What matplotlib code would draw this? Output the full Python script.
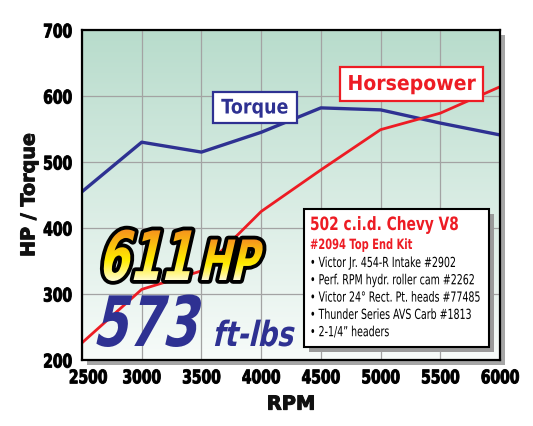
import numpy as np
import matplotlib
matplotlib.use('Agg')
import matplotlib.pyplot as plt
import matplotlib.patheffects as pe
from matplotlib.colors import to_rgba
from matplotlib.patches import Rectangle
from matplotlib.transforms import Affine2D, TransformedPath, ScaledTranslation

# dyno data
rpm = [2500, 3000, 3500, 4000, 4500, 5000, 5500, 6000]
torque = [455, 530, 515, 545, 582, 579, 559, 541]
hp = [226, 307, 335, 425, 488, 549, 574, 614]
y_ticks = [200, 300, 400, 500, 600, 700]

kit_title = '502 c.i.d. Chevy V8'
kit_sub = '#2094 Top End Kit'
kit_parts = ['Victor Jr. 454-R Intake #2902',
             'Perf. RPM hydr. roller cam #2262',
             'Victor 24° Rect. Pt. heads #77485',
             'Thunder Series AVS Carb #1813',
             '2-1/4\u201d headers']

BLUE = '#2E3192'
RED = '#ED1C24'
W, H = 533, 426


class Squeeze(pe.AbstractPathEffect):
    """squeeze text sideways (no condensed font here), optional slant/outline/gradient"""

    def __init__(self, sx=1.0, skew=0, anchor='left', stroke=None, stroke_w=0, grad=None):
        super().__init__()
        self.sx, self.skew, self.anchor = sx, skew, anchor
        self.stroke, self.stroke_w, self.grad = stroke, stroke_w, grad

    def draw_path(self, renderer, gc, tpath, affine, rgbFace=None):
        e = tpath.get_extents()
        a = {'left': 0, 'center': (e.x0 + e.x1) / 2, 'right': e.x1}[self.anchor]
        tr = Affine2D().translate(-a, 0).scale(self.sx, 1).skew_deg(self.skew, 0).translate(a, 0) + affine
        if self.stroke:
            g0 = renderer.new_gc()
            g0.copy_properties(gc)
            g0.set_foreground(self.stroke)
            g0.set_linewidth(self.stroke_w)
            g0.set_joinstyle('round')
            renderer.draw_path(g0, tpath, tr, to_rgba(self.stroke))
            g0.restore()
        if self.grad is None:
            renderer.draw_path(gc, tpath, tr, rgbFace)
            return
        d = tr.transform_path(tpath).get_extents()
        h, w = int(d.height) + 3, int(d.width) + 3
        t = np.linspace(0, 1, h)
        cols = np.array([np.interp(t, self.grad[0], [c[i] for c in self.grad[1]]) for i in range(3)]).T
        img = np.ones((h, w, 4))
        img[:, :, :3] = cols[:, None, :]
        img = (img * 255).astype(np.uint8)
        g1 = renderer.new_gc()
        g1.copy_properties(gc)
        g1.set_clip_path(TransformedPath(tpath, tr))
        renderer.draw_image(g1, int(d.x0) - 1, int(d.y0) - 1, img)
        g1.restore()


fig = plt.figure(figsize=(W / 100, H / 100), dpi=100)

# drop shadow behind the plot frame
fig.add_artist(Rectangle((87 / W, 1 - 365 / H), 418 / W, 330 / H, transform=fig.transFigure,
                         fc='#a6a6a6', ec='none', zorder=-1))

ax = fig.add_axes([82 / W, 1 - 360 / H, 418 / W, 330 / H])
top = np.array([184, 220, 204]) / 255
bot = np.array([247, 251, 249]) / 255
t = np.linspace(0, 1, 200)[:, None]
grad = (top * (1 - t) + bot * t)[:, None, :]
ax.imshow(grad, extent=[2500, 6000, 200, 700], aspect='auto', zorder=0, interpolation='bilinear')

ax.plot(rpm, torque, color=BLUE, lw=2.4, zorder=3)
ax.plot(rpm, hp, color=RED, lw=2.0, zorder=3)

ax.set_xlim(2500, 6000)
ax.set_ylim(200, 700)
ax.set_xticks(rpm)
ax.set_yticks(y_ticks)
ax.grid(color='#a3a3a3', lw=0.9, zorder=1)
ax.set_axisbelow(False)
for s in ax.spines.values():
    s.set_linewidth(1.6)
    s.set_zorder(4)
ax.tick_params(axis='x', length=0, pad=6, labelsize=13.5)
ax.tick_params(axis='y', length=0, pad=7, labelsize=13.5)
for lab in ax.get_xticklabels():
    lab.set_weight('bold')
    lab.set_path_effects([Squeeze(0.74, anchor='center', stroke='#111111', stroke_w=0.7)])
# first rpm label sits a little right of its gridline, clear of "200"
first = ax.xaxis.get_major_ticks()[0].label1
first.set_transform(first.get_transform() + ScaledTranslation(6 / 100, 0, fig.dpi_scale_trans))
for lab in ax.get_yticklabels():
    lab.set_weight('bold')
    lab.set_path_effects([Squeeze(0.74, anchor='right', stroke='#111111', stroke_w=0.7)])
ax.set_xlabel('RPM', fontsize=14, fontweight='bold', color='#111111',
              path_effects=[pe.withStroke(linewidth=0.7, foreground='#111111')])
ax.xaxis.set_label_coords(0.5, -0.105)
ax.set_ylabel('HP / Torque', fontsize=13.8, fontweight='bold', va='center', color='#111111',
              path_effects=[pe.withStroke(linewidth=0.7, foreground='#111111')])
ax.yaxis.set_label_coords(-0.127, 0.5)

# overlay in pixel coordinates for labels and the banner
ov = fig.add_axes([0, 0, 1, 1], zorder=5)
ov.patch.set_alpha(0)
ov.axis('off')
ov.set_xlim(0, W)
ov.set_ylim(H, 0)

ov.add_patch(Rectangle((213, 92), 84, 31, fc='white', ec=BLUE, lw=1.6))
ov.text(255, 108, 'Torque', color=BLUE, fontsize=14.5, fontweight='bold', ha='center', va='center',
        path_effects=[Squeeze(0.87, anchor='center')])
ov.add_patch(Rectangle((340, 67), 143, 34, fc='white', ec=RED, lw=1.6))
ov.text(411.5, 84, 'Horsepower', color=RED, fontsize=14.8, fontweight='bold', ha='center', va='center',
        path_effects=[Squeeze(0.92, anchor='center')])

# info box
ov.add_patch(Rectangle((309, 214), 185, 138, fc='#9a9a9a', ec='none'))
ov.add_patch(Rectangle((304, 209), 185, 138, fc='white', ec='black', lw=1.5))
ov.text(310, 230, kit_title, color=RED, fontsize=13.2, fontweight='bold', va='baseline',
        path_effects=[Squeeze(0.75)])
ov.text(310, 249, kit_sub, color=RED, fontsize=10.2, fontweight='bold', va='baseline',
        path_effects=[Squeeze(0.7)])
for i, part in enumerate(kit_parts):
    ov.text(310, 267 + i * 17.3, '\u2022 ' + part, color='black', fontsize=10, va='baseline',
            path_effects=[Squeeze(0.68)])

yel = ([0, 0.4, 1], [(1, 0.99, 0.86), (1, 0.93, 0.0), (0.96, 0.56, 0.12)])
ov.text(97, 280, '611', fontsize=49, fontweight='bold', color='#FFE000', va='baseline',
        path_effects=[Squeeze(0.66, skew=13, stroke='black', stroke_w=5.5, grad=yel)])
ov.text(198, 280, 'HP', fontsize=40, fontweight='bold', color='#FFE000', va='baseline',
        path_effects=[Squeeze(0.68, skew=13, stroke='black', stroke_w=5.5, grad=yel)])
ov.text(92, 346, '573', fontsize=50, fontweight='bold', color=BLUE, va='baseline',
        path_effects=[Squeeze(0.72, skew=13)])
ov.text(212, 346, 'ft-lbs', fontsize=25, fontweight='bold', color=BLUE, va='baseline',
        path_effects=[Squeeze(0.78, skew=13)])

fig.savefig('out.png', dpi=100)
